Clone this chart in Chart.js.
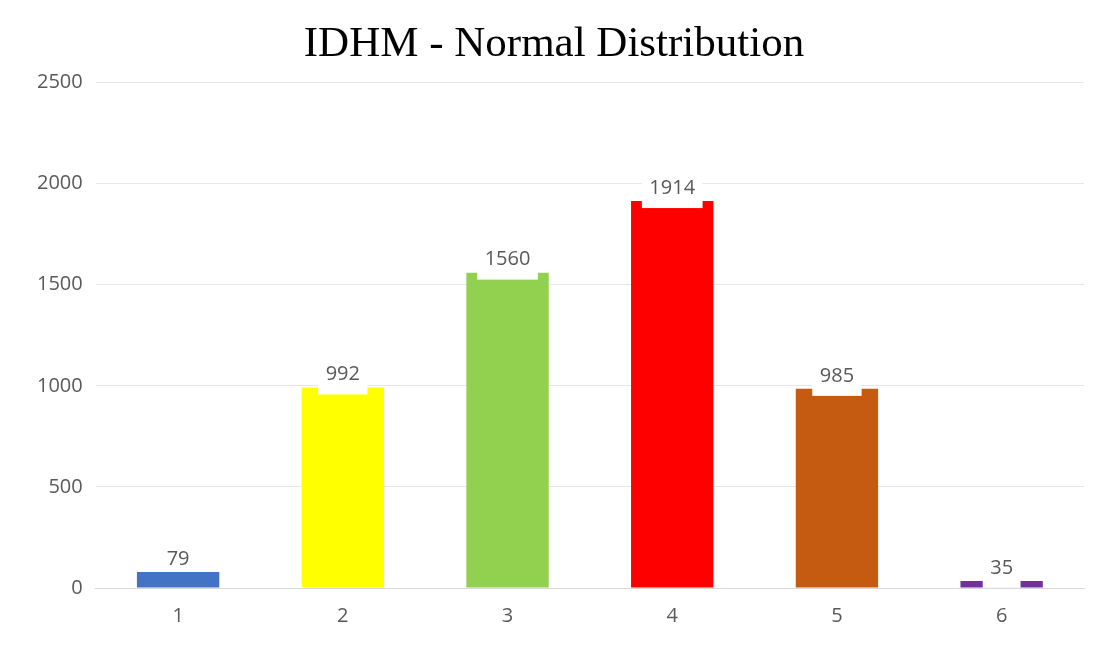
<!DOCTYPE html>
<html>
<head>
<meta charset="utf-8">
<script src="https://cdn.jsdelivr.net/npm/chart.js@4.4.1/dist/chart.umd.min.js"></script>
<style>
  html, body { margin: 0; padding: 0; background: #ffffff; }
  #wrap { position: relative; width: 1099px; height: 652px; }
</style>
</head>
<body>
<div id="wrap"><canvas id="chart" width="1099" height="652"></canvas></div>
<script>
const TITLE = "IDHM - Normal Distribution";
const CATEGORIES = ["1", "2", "3", "4", "5", "6"];
const COUNTS = [79, 992, 1560, 1914, 985, 35];
const BAR_COLORS = ["#4472C4", "#FFFF00", "#92D050", "#FF0000", "#C55A11", "#7030A0"];
const Y_TICKS = [0, 500, 1000, 1500, 2000, 2500];
// the first label in the source has no white fill behind it
const LABEL_FILLED = [false, true, true, true, true, true];

const TEXT_GRAY = "#595959";
const TICK_FONT = { family: "'Open Sans', sans-serif", size: 20 };

// value labels drawn on a white box that overlaps the bar top
const valueLabels = {
  id: "valueLabels",
  afterDatasetsDraw(chart) {
    const { ctx } = chart;
    const meta = chart.getDatasetMeta(0);
    ctx.save();
    ctx.font = "20px 'Open Sans', sans-serif";
    ctx.textAlign = "center";
    ctx.textBaseline = "middle";
    meta.data.forEach((bar, i) => {
      const text = String(COUNTS[i]);
      const w = ctx.measureText(text).width + 15;
      const cy = bar.y - 13;
      if (LABEL_FILLED[i]) {
        ctx.fillStyle = "#ffffff";
        ctx.fillRect(bar.x - w / 2, cy - 20, w, 40);
      }
      ctx.fillStyle = TEXT_GRAY;
      ctx.fillText(text, bar.x, cy);
    });
    ctx.restore();
  },
};

new Chart(document.getElementById("chart"), {
  type: "bar",
  data: {
    labels: CATEGORIES,
    datasets: [{
      data: COUNTS,
      backgroundColor: BAR_COLORS,
      borderWidth: 0,
      barPercentage: 0.5,
      categoryPercentage: 1,
    }],
  },
  options: {
    responsive: false,
    animation: false,
    layout: { padding: { left: 24, right: 15, top: 0, bottom: 8 } },
    scales: {
      x: {
        grid: { display: false, drawTicks: false },
        border: { color: "#d9d9d9", width: 1 },
        ticks: { color: TEXT_GRAY, font: TICK_FONT, padding: 16 },
      },
      y: {
        min: 0,
        max: 2500,
        afterBuildTicks: (axis) => { axis.ticks = Y_TICKS.map((v) => ({ value: v })); },
        grid: { color: "#e6e6e6", lineWidth: 1, drawTicks: false },
        border: { display: false },
        ticks: { color: TEXT_GRAY, font: TICK_FONT, padding: 13, callback: (v) => String(v) },
      },
    },
    plugins: {
      legend: { display: false },
      tooltip: { enabled: false },
      title: {
        display: true,
        text: TITLE,
        color: "#000000",
        font: { family: "'Liberation Serif', 'Times New Roman', serif", size: 43, weight: "normal" },
        padding: { top: 19, bottom: 12 },
      },
    },
  },
  plugins: [valueLabels],
});
</script>
</body>
</html>
